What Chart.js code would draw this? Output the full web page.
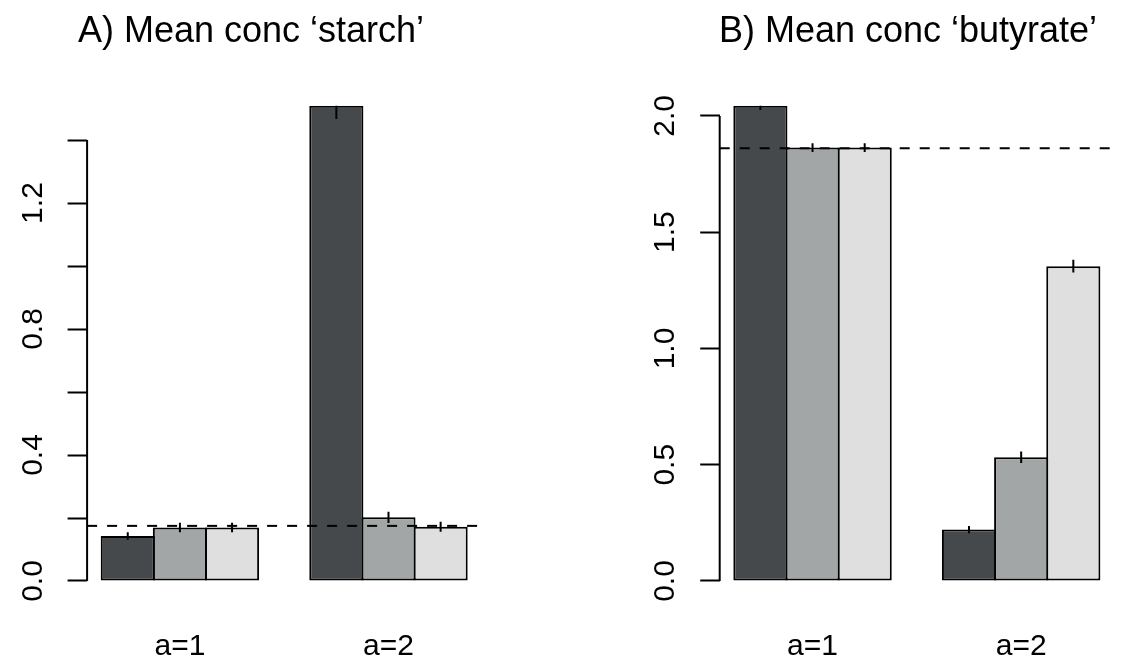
<!DOCTYPE html>
<html><head><meta charset="utf-8">
<script src="https://cdn.jsdelivr.net/npm/chart.js@4.4.1/dist/chart.umd.min.js"></script>
<style>
html,body{margin:0;padding:0;background:#fff;}
#wrap{position:relative;width:1123px;height:661px;overflow:hidden;background:#fff;}
.pane{position:absolute;top:0;height:661px;}
</style></head><body>
<div id="wrap">
<div class="pane" id="pA" style="left:0;width:561px"><canvas id="cA"></canvas></div>
<div class="pane" id="pB" style="left:561px;width:562px"><canvas id="cB"></canvas></div>
</div>
<script>
// ---------------- data ----------------
const categories = ['a=1', 'a=2'];
const seriesColors = ['#46494c', '#a3a6a7', '#dfdfdf'];

// Panel A: starch
const starchTitle = 'A) Mean conc \u2018starch\u2019';
const starchS1 = [0.143, 1.509];
const starchS2 = [0.170, 0.202];
const starchS3 = [0.170, 0.172];
const starchErr1 = [0.012, 0.042];
const starchErr2 = [0.015, 0.018];
const starchErr3 = [0.015, 0.016];
const starchRef = 0.175;
const starchTicks = [0, 0.2, 0.4, 0.6, 0.8, 1.0, 1.2, 1.4];
const starchLabelTicks = [0, 0.4, 0.8, 1.2];
const starchTickLabels = ['0.0', '0.4', '0.8', '1.2'];

// Panel B: butyrate
const butyrateTitle = 'B) Mean conc \u2018butyrate\u2019';
const butyrateS1 = [2.044, 0.221];
const butyrateS2 = [1.864, 0.532];
const butyrateS3 = [1.864, 1.354];
const butyrateErr1 = [0.018, 0.016];
const butyrateErr2 = [0.019, 0.025];
const butyrateErr3 = [0.019, 0.027];
const butyrateRef = 1.861;
const butyrateTicks = [0, 0.5, 1.0, 1.5, 2.0];
const butyrateLabelTicks = [0, 0.5, 1.0, 1.5, 2.0];
const butyrateTickLabels = ['0.0', '0.5', '1.0', '1.5', '2.0'];

// ---------------- drawing ----------------
Chart.defaults.font.family = '"Liberation Sans", Arial, Helvetica, sans-serif';
Chart.defaults.color = '#000';

const FONT = '"Liberation Sans", Arial, Helvetica, sans-serif';

const decor = {
  id: 'decor',
  afterDatasetsDraw(chart, args, o) {
    const ctx = chart.ctx, ca = chart.chartArea, ys = chart.scales.y;
    ctx.save();
    ctx.beginPath();
    ctx.rect(ca.left, ca.top, ca.right - ca.left, ca.bottom - ca.top);
    ctx.clip();
    ctx.strokeStyle = '#000';
    ctx.lineWidth = 2;
    chart.data.datasets.forEach((ds, di) => {
      const meta = chart.getDatasetMeta(di);
      meta.data.forEach((bar, i) => {
        const v = ds.data[i].y, e = ds.errors[i];
        ctx.beginPath();
        ctx.moveTo(bar.x, ys.getPixelForValue(v - e));
        ctx.lineTo(bar.x, ys.getPixelForValue(v + e));
        ctx.stroke();
      });
    });
    ctx.setLineDash([10, 10]);
    const yr = ys.getPixelForValue(o.ref);
    ctx.beginPath();
    ctx.moveTo(ca.left, yr);
    ctx.lineTo(ca.right, yr);
    ctx.stroke();
    ctx.restore();
  },
  afterDraw(chart, args, o) {
    const ctx = chart.ctx, ca = chart.chartArea, ys = chart.scales.y;
    ctx.save();
    // y axis line from first to last tick
    ctx.strokeStyle = '#000';
    ctx.lineWidth = 2;
    ctx.beginPath();
    ctx.moveTo(ca.left, ys.getPixelForValue(o.ticks[0]));
    ctx.lineTo(ca.left, ys.getPixelForValue(o.ticks[o.ticks.length - 1]));
    ctx.stroke();
    // rotated y labels
    ctx.fillStyle = '#000';
    ctx.font = '30px ' + FONT;
    ctx.textAlign = 'center';
    ctx.textBaseline = 'alphabetic';
    o.labelTicks.forEach((v, i) => {
      const y = ys.getPixelForValue(v);
      ctx.save();
      ctx.translate(ca.left - 45.5, y);
      ctx.rotate(-Math.PI / 2);
      ctx.fillText(o.labels[i], 0, 0);
      ctx.restore();
    });
    // title
    ctx.font = '36px ' + FONT;
    ctx.textAlign = 'center';
    ctx.fillText(o.title, o.titleX, 41.7);
    ctx.restore();
  }
};

function makePanel(id, cfg) {
  const nSeries = cfg.series.length;
  const nGroups = categories.length;
  const centers = categories.map((c, i) => i * (nSeries + 1) + 1 + nSeries / 2);
  const lo = 1, hi = nGroups * (nSeries + 1);
  const xMin = lo - 0.04 * (hi - lo), xMax = hi + 0.04 * (hi - lo);
  const allVals = cfg.series.flat();
  const maxV = Math.max(...allVals);
  const datasets = cfg.series.map((vals, s) => ({
    label: 'series ' + (s + 1),
    data: vals.map((v, i) => ({ x: centers[i], y: v })),
    errors: cfg.errors[s],
    backgroundColor: seriesColors[s],
    borderColor: '#000',
    borderWidth: 2,
    borderSkipped: false,
    inflateAmount: 0,
    categoryPercentage: nSeries / (nSeries + 1),
    barPercentage: 1.038
  }));
  return new Chart(document.getElementById(id), {
    type: 'bar',
    data: { datasets },
    plugins: [decor],
    options: {
      responsive: true,
      maintainAspectRatio: false,
      animation: false,
      devicePixelRatio: 1,
      layout: { padding: { top: 105.7, bottom: 0, left: 0, right: cfg.padRight } },
      plugins: {
        legend: { display: false },
        tooltip: { enabled: false },
        decor: {
          ref: cfg.ref, ticks: cfg.ticks, labelTicks: cfg.labelTicks,
          labels: cfg.labels, title: cfg.title, titleX: cfg.titleX
        }
      },
      scales: {
        x: {
          type: 'linear', min: xMin, max: xMax, offset: false,
          grid: { display: false, drawTicks: false, offset: false },
          border: { display: false },
          afterBuildTicks: s => { s.ticks = centers.map(v => ({ value: v })); },
          ticks: {
            font: { size: 30 }, color: '#000', padding: 43,
            maxRotation: 0, minRotation: 0, autoSkip: false,
            callback: (v, i) => categories[i]
          },
          afterFit: s => { s.height = 661 - 585.75; }
        },
        y: {
          type: 'linear', min: -0.01 * maxV, max: maxV,
          border: { display: false },
          grid: { drawOnChartArea: false, drawTicks: true, tickLength: 19.5, tickWidth: 2, tickColor: '#000', color: '#000' },
          ticks: { display: false },
          afterBuildTicks: s => { s.ticks = cfg.ticks.map(v => ({ value: v })); },
          afterFit: s => { s.width = cfg.leftW; }
        }
      }
    }
  });
}

makePanel('cA', {
  series: [starchS1, starchS2, starchS3],
  errors: [starchErr1, starchErr2, starchErr3],
  ref: starchRef, ticks: starchTicks, labelTicks: starchLabelTicks, labels: starchTickLabels,
  title: starchTitle, titleX: 251, leftW: 87.1, padRight: 561 - 481.3
});
makePanel('cB', {
  series: [butyrateS1, butyrateS2, butyrateS3],
  errors: [butyrateErr1, butyrateErr2, butyrateErr3],
  ref: butyrateRef, ticks: butyrateTicks, labelTicks: butyrateLabelTicks, labels: butyrateTickLabels,
  title: butyrateTitle, titleX: 347, leftW: 158.7, padRight: 562 - 553
});
</script>
</body></html>
